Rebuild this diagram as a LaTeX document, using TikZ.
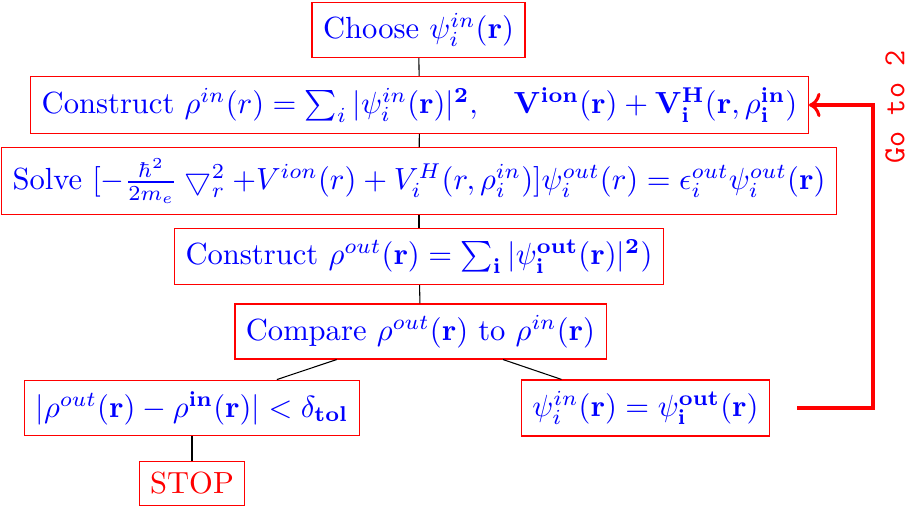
\documentclass[tikz,border=0pt]{standalone}
\usetikzlibrary{arrows.meta}
\begin{document}
\begin{tikzpicture}[x=0.327pt,y=-0.327pt,
  stepbox/.style={draw=red, text=blue, inner sep=3.6pt},
  stopbox/.style={draw=red, text=red, inner sep=3.6pt},
  link/.style={draw=black, line width=0.35pt},
  goback/.style={draw=red, line width=1pt, ->}]
\useasboundingbox (0,0) rectangle (909,508);
\node[stepbox] (n1) at (418.5,30) {Choose $\psi_i^{in}(\mathbf{r})$};
\node[stepbox] (n2) at (419.5,105) {Construct $\rho^{in}(r) = \sum_i |\psi_i^{in}(\mathbf{r})|^{\mathbf{2}}, \quad \mathbf{V}^{\mathbf{ion}}(\mathbf{r}) + \mathbf{V}_{\mathbf{i}}^{\mathbf{H}}(\mathbf{r},\rho_{\mathbf{i}}^{\mathbf{in}})$};
\node[stepbox] (n3) at (419,181) {Solve $[-\frac{\hbar^2}{2m_e}\bigtriangledown_r^2 + V^{ion}(r) + V_i^H(r,\rho_i^{in})]\psi_i^{out}(r) = \epsilon_i^{out}\psi_i^{out}(\mathbf{r})$};
\node[stepbox] (n4) at (419,256.5) {Construct $\rho^{out}(\mathbf{r}) = \sum_{\mathbf{i}} |\psi_{\mathbf{i}}^{\mathbf{out}}(\mathbf{r})|^{\mathbf{2}})$};
\node[stepbox] (n5) at (420.5,331.5) {Compare $\rho^{out}(\mathbf{r})$ to $\rho^{in}(\mathbf{r})$};
\node[stepbox] (n6) at (192,408) {$|\rho^{out}(\mathbf{r}) - \rho^{\mathbf{in}}(\mathbf{r})| < \delta_{\mathbf{tol}}$};
\node[stepbox] (n7) at (645.5,408) {$\psi_i^{in}(\mathbf{r}) = \psi_{\mathbf{i}}^{\mathbf{out}}(\mathbf{r})$};
\node[stopbox] (n8) at (192,483.5) {STOP};
\draw[link] (n1) -- (n2);
\draw[link] (n2) -- (n3);
\draw[link] (n3) -- (n4);
\draw[link] (n4) -- (n5);
\draw[link] (n5) -- (n6);
\draw[link] (n5) -- (n7);
\draw[link] (n6) -- (n8);
\coordinate (gs) at (797,408);
\coordinate (gc) at (873,105);
\draw[goback] (gs) -| (gc) -- (n2.east);
\node[text=red, rotate=90, font=\ttfamily] (lbl) at (895,107) {Go to 2};
\end{tikzpicture}
\end{document}
